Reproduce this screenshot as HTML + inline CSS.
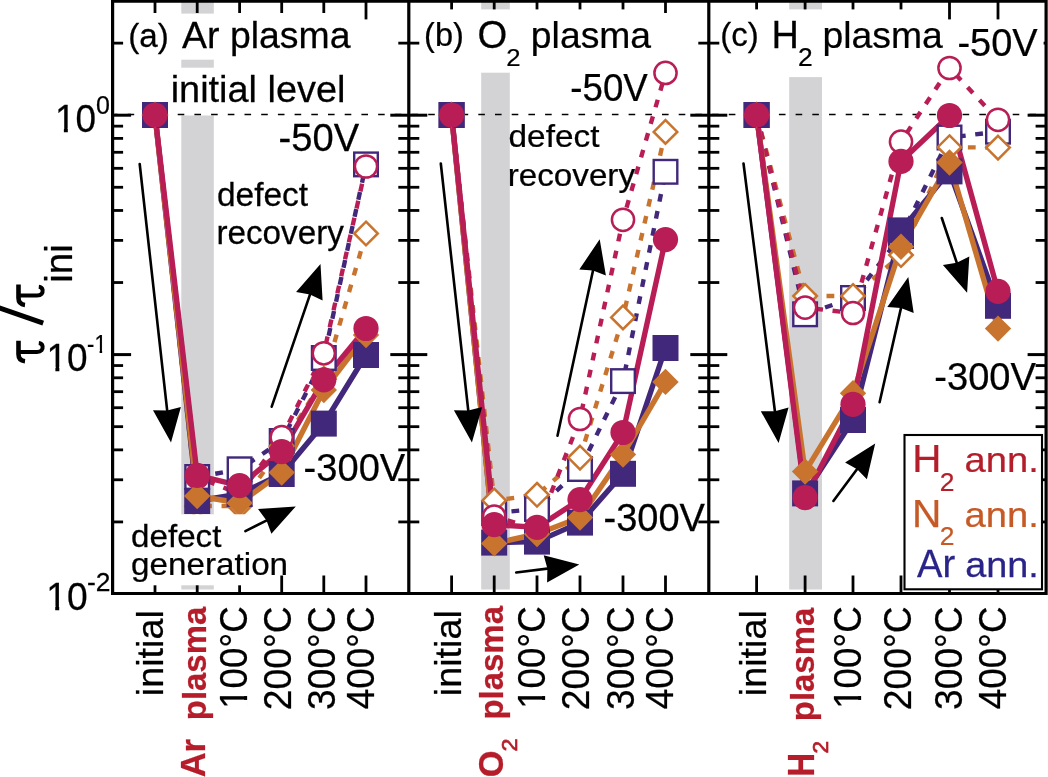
<!DOCTYPE html><html><head><meta charset="utf-8"><style>html,body{margin:0;padding:0;background:#fff}svg{display:block;will-change:transform;font-family:"Liberation Sans",sans-serif}</style></head><body>
<svg width="1048" height="777" viewBox="0 0 1048 777">
<rect width="1048" height="777" fill="#fff"/>
<rect x="181.3" y="0" width="32.50" height="589.50" fill="#D3D3D6"/>
<rect x="481.2" y="0" width="28.60" height="589.50" fill="#D3D3D6"/>
<rect x="789.2" y="0" width="32.80" height="589.50" fill="#D3D3D6"/>
<rect x="120" y="13.6" width="235" height="46.1" fill="#fff"/>
<rect x="165" y="67.7" width="185" height="47.8" fill="#fff"/>
<rect x="420" y="9.4" width="240" height="63.3" fill="#fff"/>
<rect x="715" y="9.4" width="235" height="67.7" fill="#fff"/>
<line x1="114.6" y1="114.5" x2="1044.1" y2="114.5" stroke="#000" stroke-width="1.6" stroke-dasharray="6.6 10.1" stroke-dashoffset="3.7"/>
<polyline points="155.00,115.00 197.20,477.00 239.60,469.30 281.70,441.00 323.80,358.00 366.00,164.40" fill="none" stroke="#42287B" stroke-width="4.4" stroke-dasharray="7.8 9.6" stroke-dashoffset="0.00"/>
<polyline points="155.00,115.00 197.20,506.00 239.60,506.00 281.70,446.00 323.80,379.00 366.00,233.50" fill="none" stroke="#C9742E" stroke-width="4.4" stroke-dasharray="7.8 9.6" stroke-dashoffset="0.00"/>
<polyline points="155.00,115.00 197.20,477.00 239.60,494.00 281.70,437.20 323.80,353.30 366.00,166.50" fill="none" stroke="#B81E55" stroke-width="4.4" stroke-dasharray="7.8 9.6" stroke-dashoffset="7.55"/>
<polyline points="155.00,115.00 197.20,501.00 239.60,494.00 281.70,474.00 323.80,423.60 366.00,355.00" fill="none" stroke="#42287B" stroke-width="5.4" stroke-linejoin="round"/>
<polyline points="155.00,115.00 197.20,496.00 239.60,503.00 281.70,472.60 323.80,390.00 366.00,335.00" fill="none" stroke="#C9742E" stroke-width="5.4" stroke-linejoin="round"/>
<polyline points="155.00,115.00 197.20,475.40 239.60,485.60 281.70,451.70 323.80,379.80 366.00,328.50" fill="none" stroke="#B81E55" stroke-width="5.4" stroke-linejoin="round"/>
<rect x="143.20" y="103.20" width="23.6" height="23.6" fill="#fff" stroke="#42287B" stroke-width="2.4"/>
<rect x="185.40" y="465.20" width="23.6" height="23.6" fill="#fff" stroke="#42287B" stroke-width="2.4"/>
<rect x="227.80" y="457.50" width="23.6" height="23.6" fill="#fff" stroke="#42287B" stroke-width="2.4"/>
<rect x="269.90" y="429.20" width="23.6" height="23.6" fill="#fff" stroke="#42287B" stroke-width="2.4"/>
<rect x="312.00" y="346.20" width="23.6" height="23.6" fill="#fff" stroke="#42287B" stroke-width="2.4"/>
<rect x="354.20" y="152.60" width="23.6" height="23.6" fill="#fff" stroke="#42287B" stroke-width="2.4"/>
<path d="M155.00 103.20L166.80 115.00L155.00 126.80L143.20 115.00Z" fill="#fff" stroke="#C9742E" stroke-width="2.5"/>
<path d="M197.20 494.20L209.00 506.00L197.20 517.80L185.40 506.00Z" fill="#fff" stroke="#C9742E" stroke-width="2.5"/>
<path d="M239.60 494.20L251.40 506.00L239.60 517.80L227.80 506.00Z" fill="#fff" stroke="#C9742E" stroke-width="2.5"/>
<path d="M281.70 434.20L293.50 446.00L281.70 457.80L269.90 446.00Z" fill="#fff" stroke="#C9742E" stroke-width="2.5"/>
<path d="M323.80 367.20L335.60 379.00L323.80 390.80L312.00 379.00Z" fill="#fff" stroke="#C9742E" stroke-width="2.5"/>
<path d="M366.00 221.70L377.80 233.50L366.00 245.30L354.20 233.50Z" fill="#fff" stroke="#C9742E" stroke-width="2.5"/>
<circle cx="155.00" cy="115.00" r="11.1" fill="#fff" stroke="#B81E55" stroke-width="2.5"/>
<circle cx="197.20" cy="477.00" r="11.1" fill="#fff" stroke="#B81E55" stroke-width="2.5"/>
<circle cx="239.60" cy="494.00" r="11.1" fill="#fff" stroke="#B81E55" stroke-width="2.5"/>
<circle cx="281.70" cy="437.20" r="11.1" fill="#fff" stroke="#B81E55" stroke-width="2.5"/>
<circle cx="323.80" cy="353.30" r="11.1" fill="#fff" stroke="#B81E55" stroke-width="2.5"/>
<circle cx="366.00" cy="166.50" r="11.1" fill="#fff" stroke="#B81E55" stroke-width="2.5"/>
<rect x="142.00" y="102.00" width="26" height="26" fill="#42287B"/>
<rect x="184.20" y="488.00" width="26" height="26" fill="#42287B"/>
<rect x="226.60" y="481.00" width="26" height="26" fill="#42287B"/>
<rect x="268.70" y="461.00" width="26" height="26" fill="#42287B"/>
<rect x="310.80" y="410.60" width="26" height="26" fill="#42287B"/>
<rect x="353.00" y="342.00" width="26" height="26" fill="#42287B"/>
<path d="M155.00 101.80L168.20 115.00L155.00 128.20L141.80 115.00Z" fill="#C9742E"/>
<path d="M197.20 482.80L210.40 496.00L197.20 509.20L184.00 496.00Z" fill="#C9742E"/>
<path d="M239.60 489.80L252.80 503.00L239.60 516.20L226.40 503.00Z" fill="#C9742E"/>
<path d="M281.70 459.40L294.90 472.60L281.70 485.80L268.50 472.60Z" fill="#C9742E"/>
<path d="M323.80 376.80L337.00 390.00L323.80 403.20L310.60 390.00Z" fill="#C9742E"/>
<path d="M366.00 321.80L379.20 335.00L366.00 348.20L352.80 335.00Z" fill="#C9742E"/>
<circle cx="155.00" cy="115.00" r="12.6" fill="#B81E55"/>
<circle cx="197.20" cy="475.40" r="12.6" fill="#B81E55"/>
<circle cx="239.60" cy="485.60" r="12.6" fill="#B81E55"/>
<circle cx="281.70" cy="451.70" r="12.6" fill="#B81E55"/>
<circle cx="323.80" cy="379.80" r="12.6" fill="#B81E55"/>
<circle cx="366.00" cy="328.50" r="12.6" fill="#B81E55"/>
<polyline points="451.60,115.00 494.20,513.00 537.00,509.00 580.00,469.00 623.00,381.10 665.50,171.80" fill="none" stroke="#42287B" stroke-width="4.4" stroke-dasharray="7.8 9.6" stroke-dashoffset="0.00"/>
<polyline points="451.60,115.00 494.20,500.50 537.00,494.80 580.00,457.60 623.00,317.40 665.50,131.90" fill="none" stroke="#C9742E" stroke-width="4.4" stroke-dasharray="7.8 9.6" stroke-dashoffset="0.00"/>
<polyline points="451.60,115.00 494.20,516.50 537.00,529.00 580.00,419.00 623.00,219.80 665.50,72.90" fill="none" stroke="#B81E55" stroke-width="4.4" stroke-dasharray="7.8 9.6" stroke-dashoffset="0.00"/>
<polyline points="451.60,115.00 494.20,542.60 537.00,541.60 580.00,522.60 623.00,473.80 665.50,348.00" fill="none" stroke="#42287B" stroke-width="5.4" stroke-linejoin="round"/>
<polyline points="451.60,115.00 494.20,543.40 537.00,534.00 580.00,517.60 623.00,454.50 665.50,381.90" fill="none" stroke="#C9742E" stroke-width="5.4" stroke-linejoin="round"/>
<polyline points="451.60,115.00 494.20,524.70 537.00,527.40 580.00,499.60 623.00,432.50 665.50,239.60" fill="none" stroke="#B81E55" stroke-width="5.4" stroke-linejoin="round"/>
<rect x="439.80" y="103.20" width="23.6" height="23.6" fill="#fff" stroke="#42287B" stroke-width="2.4"/>
<rect x="482.40" y="501.20" width="23.6" height="23.6" fill="#fff" stroke="#42287B" stroke-width="2.4"/>
<rect x="525.20" y="497.20" width="23.6" height="23.6" fill="#fff" stroke="#42287B" stroke-width="2.4"/>
<rect x="568.20" y="457.20" width="23.6" height="23.6" fill="#fff" stroke="#42287B" stroke-width="2.4"/>
<rect x="611.20" y="369.30" width="23.6" height="23.6" fill="#fff" stroke="#42287B" stroke-width="2.4"/>
<rect x="653.70" y="160.00" width="23.6" height="23.6" fill="#fff" stroke="#42287B" stroke-width="2.4"/>
<path d="M451.60 103.20L463.40 115.00L451.60 126.80L439.80 115.00Z" fill="#fff" stroke="#C9742E" stroke-width="2.5"/>
<path d="M494.20 488.70L506.00 500.50L494.20 512.30L482.40 500.50Z" fill="#fff" stroke="#C9742E" stroke-width="2.5"/>
<path d="M537.00 483.00L548.80 494.80L537.00 506.60L525.20 494.80Z" fill="#fff" stroke="#C9742E" stroke-width="2.5"/>
<path d="M580.00 445.80L591.80 457.60L580.00 469.40L568.20 457.60Z" fill="#fff" stroke="#C9742E" stroke-width="2.5"/>
<path d="M623.00 305.60L634.80 317.40L623.00 329.20L611.20 317.40Z" fill="#fff" stroke="#C9742E" stroke-width="2.5"/>
<path d="M665.50 120.10L677.30 131.90L665.50 143.70L653.70 131.90Z" fill="#fff" stroke="#C9742E" stroke-width="2.5"/>
<circle cx="451.60" cy="115.00" r="11.1" fill="#fff" stroke="#B81E55" stroke-width="2.5"/>
<circle cx="494.20" cy="516.50" r="11.1" fill="#fff" stroke="#B81E55" stroke-width="2.5"/>
<circle cx="537.00" cy="529.00" r="11.1" fill="#fff" stroke="#B81E55" stroke-width="2.5"/>
<circle cx="580.00" cy="419.00" r="11.1" fill="#fff" stroke="#B81E55" stroke-width="2.5"/>
<circle cx="623.00" cy="219.80" r="11.1" fill="#fff" stroke="#B81E55" stroke-width="2.5"/>
<circle cx="665.50" cy="72.90" r="11.1" fill="#fff" stroke="#B81E55" stroke-width="2.5"/>
<rect x="438.60" y="102.00" width="26" height="26" fill="#42287B"/>
<rect x="481.20" y="529.60" width="26" height="26" fill="#42287B"/>
<rect x="524.00" y="528.60" width="26" height="26" fill="#42287B"/>
<rect x="567.00" y="509.60" width="26" height="26" fill="#42287B"/>
<rect x="610.00" y="460.80" width="26" height="26" fill="#42287B"/>
<rect x="652.50" y="335.00" width="26" height="26" fill="#42287B"/>
<path d="M451.60 101.80L464.80 115.00L451.60 128.20L438.40 115.00Z" fill="#C9742E"/>
<path d="M494.20 530.20L507.40 543.40L494.20 556.60L481.00 543.40Z" fill="#C9742E"/>
<path d="M537.00 520.80L550.20 534.00L537.00 547.20L523.80 534.00Z" fill="#C9742E"/>
<path d="M580.00 504.40L593.20 517.60L580.00 530.80L566.80 517.60Z" fill="#C9742E"/>
<path d="M623.00 441.30L636.20 454.50L623.00 467.70L609.80 454.50Z" fill="#C9742E"/>
<path d="M665.50 368.70L678.70 381.90L665.50 395.10L652.30 381.90Z" fill="#C9742E"/>
<circle cx="451.60" cy="115.00" r="12.6" fill="#B81E55"/>
<circle cx="494.20" cy="524.70" r="12.6" fill="#B81E55"/>
<circle cx="537.00" cy="527.40" r="12.6" fill="#B81E55"/>
<circle cx="580.00" cy="499.60" r="12.6" fill="#B81E55"/>
<circle cx="623.00" cy="432.50" r="12.6" fill="#B81E55"/>
<circle cx="665.50" cy="239.60" r="12.6" fill="#B81E55"/>
<polyline points="756.60,115.00 805.10,314.30 853.00,298.00 901.00,236.00 949.50,137.50 998.00,131.70" fill="none" stroke="#42287B" stroke-width="4.4" stroke-dasharray="7.8 9.6" stroke-dashoffset="0.00"/>
<polyline points="756.60,115.00 805.10,296.00 853.00,296.00 901.00,255.00 949.50,147.20 998.00,147.60" fill="none" stroke="#C9742E" stroke-width="4.4" stroke-dasharray="7.8 9.6" stroke-dashoffset="0.00"/>
<polyline points="756.60,115.00 805.10,307.60 853.00,313.00 901.00,141.70 949.50,68.00 998.00,119.80" fill="none" stroke="#B81E55" stroke-width="4.4" stroke-dasharray="7.8 9.6" stroke-dashoffset="0.00"/>
<polyline points="756.60,115.00 805.10,493.40 853.00,420.00 901.00,230.40 949.50,171.40 998.00,305.80" fill="none" stroke="#42287B" stroke-width="5.4" stroke-linejoin="round"/>
<polyline points="756.60,115.00 805.10,471.60 853.00,393.30 901.00,246.80 949.50,162.50 998.00,328.60" fill="none" stroke="#C9742E" stroke-width="5.4" stroke-linejoin="round"/>
<polyline points="756.60,115.00 805.10,497.60 853.00,404.40 901.00,161.40 949.50,115.50 998.00,291.40" fill="none" stroke="#B81E55" stroke-width="5.4" stroke-linejoin="round"/>
<rect x="744.80" y="103.20" width="23.6" height="23.6" fill="#fff" stroke="#42287B" stroke-width="2.4"/>
<rect x="793.30" y="302.50" width="23.6" height="23.6" fill="#fff" stroke="#42287B" stroke-width="2.4"/>
<rect x="841.20" y="286.20" width="23.6" height="23.6" fill="#fff" stroke="#42287B" stroke-width="2.4"/>
<rect x="889.20" y="224.20" width="23.6" height="23.6" fill="#fff" stroke="#42287B" stroke-width="2.4"/>
<rect x="937.70" y="125.70" width="23.6" height="23.6" fill="#fff" stroke="#42287B" stroke-width="2.4"/>
<rect x="986.20" y="119.90" width="23.6" height="23.6" fill="#fff" stroke="#42287B" stroke-width="2.4"/>
<path d="M756.60 103.20L768.40 115.00L756.60 126.80L744.80 115.00Z" fill="#fff" stroke="#C9742E" stroke-width="2.5"/>
<path d="M805.10 284.20L816.90 296.00L805.10 307.80L793.30 296.00Z" fill="#fff" stroke="#C9742E" stroke-width="2.5"/>
<path d="M853.00 284.20L864.80 296.00L853.00 307.80L841.20 296.00Z" fill="#fff" stroke="#C9742E" stroke-width="2.5"/>
<path d="M901.00 243.20L912.80 255.00L901.00 266.80L889.20 255.00Z" fill="#fff" stroke="#C9742E" stroke-width="2.5"/>
<path d="M949.50 135.40L961.30 147.20L949.50 159.00L937.70 147.20Z" fill="#fff" stroke="#C9742E" stroke-width="2.5"/>
<path d="M998.00 135.80L1009.80 147.60L998.00 159.40L986.20 147.60Z" fill="#fff" stroke="#C9742E" stroke-width="2.5"/>
<circle cx="756.60" cy="115.00" r="11.1" fill="#fff" stroke="#B81E55" stroke-width="2.5"/>
<circle cx="805.10" cy="307.60" r="11.1" fill="#fff" stroke="#B81E55" stroke-width="2.5"/>
<circle cx="853.00" cy="313.00" r="11.1" fill="#fff" stroke="#B81E55" stroke-width="2.5"/>
<circle cx="901.00" cy="141.70" r="11.1" fill="#fff" stroke="#B81E55" stroke-width="2.5"/>
<circle cx="949.50" cy="68.00" r="11.1" fill="#fff" stroke="#B81E55" stroke-width="2.5"/>
<circle cx="998.00" cy="119.80" r="11.1" fill="#fff" stroke="#B81E55" stroke-width="2.5"/>
<rect x="743.60" y="102.00" width="26" height="26" fill="#42287B"/>
<rect x="792.10" y="480.40" width="26" height="26" fill="#42287B"/>
<rect x="840.00" y="407.00" width="26" height="26" fill="#42287B"/>
<rect x="888.00" y="217.40" width="26" height="26" fill="#42287B"/>
<rect x="936.50" y="158.40" width="26" height="26" fill="#42287B"/>
<rect x="985.00" y="292.80" width="26" height="26" fill="#42287B"/>
<path d="M756.60 101.80L769.80 115.00L756.60 128.20L743.40 115.00Z" fill="#C9742E"/>
<path d="M805.10 458.40L818.30 471.60L805.10 484.80L791.90 471.60Z" fill="#C9742E"/>
<path d="M853.00 380.10L866.20 393.30L853.00 406.50L839.80 393.30Z" fill="#C9742E"/>
<path d="M901.00 233.60L914.20 246.80L901.00 260.00L887.80 246.80Z" fill="#C9742E"/>
<path d="M949.50 149.30L962.70 162.50L949.50 175.70L936.30 162.50Z" fill="#C9742E"/>
<path d="M998.00 315.40L1011.20 328.60L998.00 341.80L984.80 328.60Z" fill="#C9742E"/>
<circle cx="756.60" cy="115.00" r="12.6" fill="#B81E55"/>
<circle cx="805.10" cy="497.60" r="12.6" fill="#B81E55"/>
<circle cx="853.00" cy="404.40" r="12.6" fill="#B81E55"/>
<circle cx="901.00" cy="161.40" r="12.6" fill="#B81E55"/>
<circle cx="949.50" cy="115.50" r="12.6" fill="#B81E55"/>
<circle cx="998.00" cy="291.40" r="12.6" fill="#B81E55"/>
<rect x="125" y="514.3" width="145" height="71" fill="#fff"/>
<line x1="112.6" y1="115.20" x2="131.1" y2="115.20" stroke="#000" stroke-width="3"/>
<line x1="112.6" y1="354.60" x2="131.1" y2="354.60" stroke="#000" stroke-width="3"/>
<line x1="112.6" y1="43.13" x2="123.1" y2="43.13" stroke="#000" stroke-width="2.8"/>
<line x1="112.6" y1="282.53" x2="123.1" y2="282.53" stroke="#000" stroke-width="2.8"/>
<line x1="112.6" y1="240.38" x2="123.1" y2="240.38" stroke="#000" stroke-width="2.8"/>
<line x1="112.6" y1="210.47" x2="123.1" y2="210.47" stroke="#000" stroke-width="2.8"/>
<line x1="112.6" y1="187.27" x2="123.1" y2="187.27" stroke="#000" stroke-width="2.8"/>
<line x1="112.6" y1="168.31" x2="123.1" y2="168.31" stroke="#000" stroke-width="2.8"/>
<line x1="112.6" y1="152.28" x2="123.1" y2="152.28" stroke="#000" stroke-width="2.8"/>
<line x1="112.6" y1="138.40" x2="123.1" y2="138.40" stroke="#000" stroke-width="2.8"/>
<line x1="112.6" y1="126.15" x2="123.1" y2="126.15" stroke="#000" stroke-width="2.8"/>
<line x1="112.6" y1="521.93" x2="123.1" y2="521.93" stroke="#000" stroke-width="2.8"/>
<line x1="112.6" y1="479.78" x2="123.1" y2="479.78" stroke="#000" stroke-width="2.8"/>
<line x1="112.6" y1="449.87" x2="123.1" y2="449.87" stroke="#000" stroke-width="2.8"/>
<line x1="112.6" y1="426.67" x2="123.1" y2="426.67" stroke="#000" stroke-width="2.8"/>
<line x1="112.6" y1="407.71" x2="123.1" y2="407.71" stroke="#000" stroke-width="2.8"/>
<line x1="112.6" y1="391.68" x2="123.1" y2="391.68" stroke="#000" stroke-width="2.8"/>
<line x1="112.6" y1="377.80" x2="123.1" y2="377.80" stroke="#000" stroke-width="2.8"/>
<line x1="112.6" y1="365.55" x2="123.1" y2="365.55" stroke="#000" stroke-width="2.8"/>
<line x1="408.8" y1="115.20" x2="427.3" y2="115.20" stroke="#000" stroke-width="3"/>
<line x1="408.8" y1="115.20" x2="390.3" y2="115.20" stroke="#000" stroke-width="3"/>
<line x1="408.8" y1="354.60" x2="427.3" y2="354.60" stroke="#000" stroke-width="3"/>
<line x1="408.8" y1="354.60" x2="390.3" y2="354.60" stroke="#000" stroke-width="3"/>
<line x1="408.8" y1="43.13" x2="419.3" y2="43.13" stroke="#000" stroke-width="2.8"/>
<line x1="408.8" y1="43.13" x2="398.3" y2="43.13" stroke="#000" stroke-width="2.8"/>
<line x1="408.8" y1="282.53" x2="419.3" y2="282.53" stroke="#000" stroke-width="2.8"/>
<line x1="408.8" y1="282.53" x2="398.3" y2="282.53" stroke="#000" stroke-width="2.8"/>
<line x1="408.8" y1="240.38" x2="419.3" y2="240.38" stroke="#000" stroke-width="2.8"/>
<line x1="408.8" y1="240.38" x2="398.3" y2="240.38" stroke="#000" stroke-width="2.8"/>
<line x1="408.8" y1="210.47" x2="419.3" y2="210.47" stroke="#000" stroke-width="2.8"/>
<line x1="408.8" y1="210.47" x2="398.3" y2="210.47" stroke="#000" stroke-width="2.8"/>
<line x1="408.8" y1="187.27" x2="419.3" y2="187.27" stroke="#000" stroke-width="2.8"/>
<line x1="408.8" y1="187.27" x2="398.3" y2="187.27" stroke="#000" stroke-width="2.8"/>
<line x1="408.8" y1="168.31" x2="419.3" y2="168.31" stroke="#000" stroke-width="2.8"/>
<line x1="408.8" y1="168.31" x2="398.3" y2="168.31" stroke="#000" stroke-width="2.8"/>
<line x1="408.8" y1="152.28" x2="419.3" y2="152.28" stroke="#000" stroke-width="2.8"/>
<line x1="408.8" y1="152.28" x2="398.3" y2="152.28" stroke="#000" stroke-width="2.8"/>
<line x1="408.8" y1="138.40" x2="419.3" y2="138.40" stroke="#000" stroke-width="2.8"/>
<line x1="408.8" y1="138.40" x2="398.3" y2="138.40" stroke="#000" stroke-width="2.8"/>
<line x1="408.8" y1="126.15" x2="419.3" y2="126.15" stroke="#000" stroke-width="2.8"/>
<line x1="408.8" y1="126.15" x2="398.3" y2="126.15" stroke="#000" stroke-width="2.8"/>
<line x1="408.8" y1="521.93" x2="419.3" y2="521.93" stroke="#000" stroke-width="2.8"/>
<line x1="408.8" y1="521.93" x2="398.3" y2="521.93" stroke="#000" stroke-width="2.8"/>
<line x1="408.8" y1="479.78" x2="419.3" y2="479.78" stroke="#000" stroke-width="2.8"/>
<line x1="408.8" y1="479.78" x2="398.3" y2="479.78" stroke="#000" stroke-width="2.8"/>
<line x1="408.8" y1="449.87" x2="419.3" y2="449.87" stroke="#000" stroke-width="2.8"/>
<line x1="408.8" y1="449.87" x2="398.3" y2="449.87" stroke="#000" stroke-width="2.8"/>
<line x1="408.8" y1="426.67" x2="419.3" y2="426.67" stroke="#000" stroke-width="2.8"/>
<line x1="408.8" y1="426.67" x2="398.3" y2="426.67" stroke="#000" stroke-width="2.8"/>
<line x1="408.8" y1="407.71" x2="419.3" y2="407.71" stroke="#000" stroke-width="2.8"/>
<line x1="408.8" y1="407.71" x2="398.3" y2="407.71" stroke="#000" stroke-width="2.8"/>
<line x1="408.8" y1="391.68" x2="419.3" y2="391.68" stroke="#000" stroke-width="2.8"/>
<line x1="408.8" y1="391.68" x2="398.3" y2="391.68" stroke="#000" stroke-width="2.8"/>
<line x1="408.8" y1="377.80" x2="419.3" y2="377.80" stroke="#000" stroke-width="2.8"/>
<line x1="408.8" y1="377.80" x2="398.3" y2="377.80" stroke="#000" stroke-width="2.8"/>
<line x1="408.8" y1="365.55" x2="419.3" y2="365.55" stroke="#000" stroke-width="2.8"/>
<line x1="408.8" y1="365.55" x2="398.3" y2="365.55" stroke="#000" stroke-width="2.8"/>
<line x1="708.8" y1="115.20" x2="727.3" y2="115.20" stroke="#000" stroke-width="3"/>
<line x1="708.8" y1="115.20" x2="690.3" y2="115.20" stroke="#000" stroke-width="3"/>
<line x1="708.8" y1="354.60" x2="727.3" y2="354.60" stroke="#000" stroke-width="3"/>
<line x1="708.8" y1="354.60" x2="690.3" y2="354.60" stroke="#000" stroke-width="3"/>
<line x1="708.8" y1="43.13" x2="719.3" y2="43.13" stroke="#000" stroke-width="2.8"/>
<line x1="708.8" y1="43.13" x2="698.3" y2="43.13" stroke="#000" stroke-width="2.8"/>
<line x1="708.8" y1="282.53" x2="719.3" y2="282.53" stroke="#000" stroke-width="2.8"/>
<line x1="708.8" y1="282.53" x2="698.3" y2="282.53" stroke="#000" stroke-width="2.8"/>
<line x1="708.8" y1="240.38" x2="719.3" y2="240.38" stroke="#000" stroke-width="2.8"/>
<line x1="708.8" y1="240.38" x2="698.3" y2="240.38" stroke="#000" stroke-width="2.8"/>
<line x1="708.8" y1="210.47" x2="719.3" y2="210.47" stroke="#000" stroke-width="2.8"/>
<line x1="708.8" y1="210.47" x2="698.3" y2="210.47" stroke="#000" stroke-width="2.8"/>
<line x1="708.8" y1="187.27" x2="719.3" y2="187.27" stroke="#000" stroke-width="2.8"/>
<line x1="708.8" y1="187.27" x2="698.3" y2="187.27" stroke="#000" stroke-width="2.8"/>
<line x1="708.8" y1="168.31" x2="719.3" y2="168.31" stroke="#000" stroke-width="2.8"/>
<line x1="708.8" y1="168.31" x2="698.3" y2="168.31" stroke="#000" stroke-width="2.8"/>
<line x1="708.8" y1="152.28" x2="719.3" y2="152.28" stroke="#000" stroke-width="2.8"/>
<line x1="708.8" y1="152.28" x2="698.3" y2="152.28" stroke="#000" stroke-width="2.8"/>
<line x1="708.8" y1="138.40" x2="719.3" y2="138.40" stroke="#000" stroke-width="2.8"/>
<line x1="708.8" y1="138.40" x2="698.3" y2="138.40" stroke="#000" stroke-width="2.8"/>
<line x1="708.8" y1="126.15" x2="719.3" y2="126.15" stroke="#000" stroke-width="2.8"/>
<line x1="708.8" y1="126.15" x2="698.3" y2="126.15" stroke="#000" stroke-width="2.8"/>
<line x1="708.8" y1="521.93" x2="719.3" y2="521.93" stroke="#000" stroke-width="2.8"/>
<line x1="708.8" y1="521.93" x2="698.3" y2="521.93" stroke="#000" stroke-width="2.8"/>
<line x1="708.8" y1="479.78" x2="719.3" y2="479.78" stroke="#000" stroke-width="2.8"/>
<line x1="708.8" y1="479.78" x2="698.3" y2="479.78" stroke="#000" stroke-width="2.8"/>
<line x1="708.8" y1="449.87" x2="719.3" y2="449.87" stroke="#000" stroke-width="2.8"/>
<line x1="708.8" y1="449.87" x2="698.3" y2="449.87" stroke="#000" stroke-width="2.8"/>
<line x1="708.8" y1="426.67" x2="719.3" y2="426.67" stroke="#000" stroke-width="2.8"/>
<line x1="708.8" y1="426.67" x2="698.3" y2="426.67" stroke="#000" stroke-width="2.8"/>
<line x1="708.8" y1="407.71" x2="719.3" y2="407.71" stroke="#000" stroke-width="2.8"/>
<line x1="708.8" y1="407.71" x2="698.3" y2="407.71" stroke="#000" stroke-width="2.8"/>
<line x1="708.8" y1="391.68" x2="719.3" y2="391.68" stroke="#000" stroke-width="2.8"/>
<line x1="708.8" y1="391.68" x2="698.3" y2="391.68" stroke="#000" stroke-width="2.8"/>
<line x1="708.8" y1="377.80" x2="719.3" y2="377.80" stroke="#000" stroke-width="2.8"/>
<line x1="708.8" y1="377.80" x2="698.3" y2="377.80" stroke="#000" stroke-width="2.8"/>
<line x1="708.8" y1="365.55" x2="719.3" y2="365.55" stroke="#000" stroke-width="2.8"/>
<line x1="708.8" y1="365.55" x2="698.3" y2="365.55" stroke="#000" stroke-width="2.8"/>
<line x1="1046.1" y1="115.20" x2="1027.6" y2="115.20" stroke="#000" stroke-width="3"/>
<line x1="1046.1" y1="354.60" x2="1027.6" y2="354.60" stroke="#000" stroke-width="3"/>
<line x1="1046.1" y1="43.13" x2="1043.6" y2="43.13" stroke="#000" stroke-width="2.8"/>
<line x1="1046.1" y1="282.53" x2="1035.6" y2="282.53" stroke="#000" stroke-width="2.8"/>
<line x1="1046.1" y1="240.38" x2="1035.6" y2="240.38" stroke="#000" stroke-width="2.8"/>
<line x1="1046.1" y1="210.47" x2="1035.6" y2="210.47" stroke="#000" stroke-width="2.8"/>
<line x1="1046.1" y1="187.27" x2="1035.6" y2="187.27" stroke="#000" stroke-width="2.8"/>
<line x1="1046.1" y1="168.31" x2="1035.6" y2="168.31" stroke="#000" stroke-width="2.8"/>
<line x1="1046.1" y1="152.28" x2="1035.6" y2="152.28" stroke="#000" stroke-width="2.8"/>
<line x1="1046.1" y1="138.40" x2="1035.6" y2="138.40" stroke="#000" stroke-width="2.8"/>
<line x1="1046.1" y1="126.15" x2="1035.6" y2="126.15" stroke="#000" stroke-width="2.8"/>
<line x1="1046.1" y1="521.93" x2="1035.6" y2="521.93" stroke="#000" stroke-width="2.8"/>
<line x1="1046.1" y1="479.78" x2="1035.6" y2="479.78" stroke="#000" stroke-width="2.8"/>
<line x1="1046.1" y1="449.87" x2="1035.6" y2="449.87" stroke="#000" stroke-width="2.8"/>
<line x1="1046.1" y1="426.67" x2="1035.6" y2="426.67" stroke="#000" stroke-width="2.8"/>
<line x1="1046.1" y1="407.71" x2="1035.6" y2="407.71" stroke="#000" stroke-width="2.8"/>
<line x1="1046.1" y1="391.68" x2="1035.6" y2="391.68" stroke="#000" stroke-width="2.8"/>
<line x1="1046.1" y1="377.80" x2="1035.6" y2="377.80" stroke="#000" stroke-width="2.8"/>
<line x1="1046.1" y1="365.55" x2="1035.6" y2="365.55" stroke="#000" stroke-width="2.8"/>
<line x1="155" y1="0" x2="155" y2="13" stroke="#000" stroke-width="2.8"/>
<line x1="155" y1="593.5" x2="155" y2="585.3" stroke="#000" stroke-width="2.8"/>
<line x1="197.2" y1="0" x2="197.2" y2="13" stroke="#000" stroke-width="2.8"/>
<line x1="197.2" y1="593.5" x2="197.2" y2="585.3" stroke="#000" stroke-width="2.8"/>
<line x1="239.6" y1="0" x2="239.6" y2="13" stroke="#000" stroke-width="2.8"/>
<line x1="239.6" y1="593.5" x2="239.6" y2="585.3" stroke="#000" stroke-width="2.8"/>
<line x1="281.7" y1="0" x2="281.7" y2="13" stroke="#000" stroke-width="2.8"/>
<line x1="281.7" y1="593.5" x2="281.7" y2="575.5" stroke="#000" stroke-width="2.8"/>
<line x1="323.8" y1="0" x2="323.8" y2="13" stroke="#000" stroke-width="2.8"/>
<line x1="323.8" y1="593.5" x2="323.8" y2="575.5" stroke="#000" stroke-width="2.8"/>
<line x1="366.0" y1="0" x2="366.0" y2="19.4" stroke="#000" stroke-width="2.8"/>
<line x1="366.0" y1="593.5" x2="366.0" y2="575.5" stroke="#000" stroke-width="2.8"/>
<line x1="451.6" y1="0" x2="451.6" y2="9.4" stroke="#000" stroke-width="2.8"/>
<line x1="451.6" y1="593.5" x2="451.6" y2="575.5" stroke="#000" stroke-width="2.8"/>
<line x1="494.2" y1="0" x2="494.2" y2="9.4" stroke="#000" stroke-width="2.8"/>
<line x1="494.2" y1="593.5" x2="494.2" y2="575.5" stroke="#000" stroke-width="2.8"/>
<line x1="537.0" y1="0" x2="537.0" y2="9.4" stroke="#000" stroke-width="2.8"/>
<line x1="537.0" y1="593.5" x2="537.0" y2="575.5" stroke="#000" stroke-width="2.8"/>
<line x1="580.0" y1="0" x2="580.0" y2="9.4" stroke="#000" stroke-width="2.8"/>
<line x1="580.0" y1="593.5" x2="580.0" y2="575.5" stroke="#000" stroke-width="2.8"/>
<line x1="623.0" y1="0" x2="623.0" y2="9.4" stroke="#000" stroke-width="2.8"/>
<line x1="623.0" y1="593.5" x2="623.0" y2="575.5" stroke="#000" stroke-width="2.8"/>
<line x1="665.5" y1="0" x2="665.5" y2="13" stroke="#000" stroke-width="2.8"/>
<line x1="665.5" y1="593.5" x2="665.5" y2="575.5" stroke="#000" stroke-width="2.8"/>
<line x1="756.6" y1="0" x2="756.6" y2="9.4" stroke="#000" stroke-width="2.8"/>
<line x1="756.6" y1="593.5" x2="756.6" y2="575.5" stroke="#000" stroke-width="2.8"/>
<line x1="805.1" y1="0" x2="805.1" y2="9.4" stroke="#000" stroke-width="2.8"/>
<line x1="805.1" y1="593.5" x2="805.1" y2="575.5" stroke="#000" stroke-width="2.8"/>
<line x1="853.0" y1="0" x2="853.0" y2="9.4" stroke="#000" stroke-width="2.8"/>
<line x1="853.0" y1="593.5" x2="853.0" y2="575.5" stroke="#000" stroke-width="2.8"/>
<line x1="901.0" y1="0" x2="901.0" y2="9.4" stroke="#000" stroke-width="2.8"/>
<line x1="901.0" y1="593.5" x2="901.0" y2="575.5" stroke="#000" stroke-width="2.8"/>
<line x1="949.5" y1="0" x2="949.5" y2="19.4" stroke="#000" stroke-width="2.8"/>
<line x1="949.5" y1="593.5" x2="949.5" y2="575.5" stroke="#000" stroke-width="2.8"/>
<line x1="998.0" y1="0" x2="998.0" y2="19.4" stroke="#000" stroke-width="2.8"/>
<line x1="998.0" y1="593.5" x2="998.0" y2="575.5" stroke="#000" stroke-width="2.8"/>
<path d="M112.6 0V593.5H1046.1V0" fill="none" stroke="#000" stroke-width="3.2"/>
<line x1="112.6" y1="1.2" x2="1046.1" y2="1.2" stroke="#000" stroke-width="3.2"/>
<line x1="408.8" y1="0" x2="408.8" y2="593.5" stroke="#000" stroke-width="3.2"/>
<line x1="708.8" y1="0" x2="708.8" y2="593.5" stroke="#000" stroke-width="3.2"/>
<rect x="904.5" y="435" width="137.5" height="154.3" fill="#fff" stroke="#000" stroke-width="2.1"/>
<line x1="139.70" y1="164.00" x2="167.42" y2="412.57" stroke="#000" stroke-width="2.6" stroke-linecap="round"/>
<path d="M171.00 442.60L180.90 407.00L167.19 410.59L153.00 410.20Z" fill="#000"/>
<line x1="271.70" y1="406.70" x2="310.65" y2="292.57" stroke="#000" stroke-width="2.6" stroke-linecap="round"/>
<path d="M320.50 263.90L322.60 300.60L310.00 294.46L296.10 292.10Z" fill="#000"/>
<line x1="245.40" y1="531.10" x2="268.31" y2="519.62" stroke="#000" stroke-width="2.6" stroke-linecap="round"/>
<path d="M295.80 506.40L271.40 533.70L266.50 520.48L258.00 509.00Z" fill="#000"/>
<line x1="440.80" y1="163.50" x2="468.50" y2="412.57" stroke="#000" stroke-width="2.6" stroke-linecap="round"/>
<path d="M471.90 442.60L482.20 407.00L468.28 410.59L453.90 410.20Z" fill="#000"/>
<line x1="557.50" y1="435.80" x2="593.44" y2="268.59" stroke="#000" stroke-width="2.6" stroke-linecap="round"/>
<path d="M599.70 239.30L605.90 275.60L593.02 270.54L579.30 269.40Z" fill="#000"/>
<line x1="516.20" y1="572.50" x2="549.37" y2="568.35" stroke="#000" stroke-width="2.6" stroke-linecap="round"/>
<path d="M579.30 564.60L547.10 582.40L547.38 568.60L543.70 555.30Z" fill="#000"/>
<line x1="743.50" y1="163.50" x2="775.16" y2="413.27" stroke="#000" stroke-width="2.6" stroke-linecap="round"/>
<path d="M778.60 442.90L788.60 407.40L774.93 411.29L760.80 411.20Z" fill="#000"/>
<line x1="833.40" y1="501.00" x2="858.29" y2="467.57" stroke="#000" stroke-width="2.6" stroke-linecap="round"/>
<path d="M875.20 443.40L866.90 479.20L857.15 469.21L845.10 462.50Z" fill="#000"/>
<line x1="879.60" y1="402.30" x2="901.42" y2="306.11" stroke="#000" stroke-width="2.6" stroke-linecap="round"/>
<path d="M908.30 277.00L913.70 312.90L900.96 308.05L887.30 307.10Z" fill="#000"/>
<line x1="941.80" y1="218.00" x2="957.40" y2="264.58" stroke="#000" stroke-width="2.6" stroke-linecap="round"/>
<path d="M967.10 292.70L969.30 256.60L956.75 262.69L942.90 265.00Z" fill="#000"/>
<text transform="translate(54.93,132.40) scale(0.9634,1)" font-size="38.3" fill="#000" stroke="#000" stroke-width="0.25">10</text>
<g transform="translate(54.93,132.40) scale(0.9634,1)" fill="#fff"><rect x="0.87" y="-4.16" width="8.41" height="5.46"/><rect x="13.37" y="-4.16" width="8.37" height="5.46"/></g>
<text transform="translate(96.10,114.40) scale(0.9804,1)" font-size="25.5" fill="#000" stroke="#000" stroke-width="0.25">0</text>
<text transform="translate(46.43,371.20) scale(0.9661,1)" font-size="38.3" fill="#000" stroke="#000" stroke-width="0.25">10</text>
<g transform="translate(46.43,371.20) scale(0.9661,1)" fill="#fff"><rect x="0.87" y="-4.16" width="8.41" height="5.46"/><rect x="13.37" y="-4.16" width="8.37" height="5.46"/></g>
<text transform="translate(87.12,352.90) scale(0.8578,1)" font-size="25.5" fill="#000" stroke="#000" stroke-width="0.25">-1</text>
<g transform="translate(87.12,352.90) scale(0.8578,1)" fill="#fff"><rect x="8.74" y="-3.21" width="5.82" height="4.51"/><rect x="17.51" y="-3.21" width="5.91" height="4.51"/></g>
<text transform="translate(46.21,610.00) scale(0.9713,1)" font-size="38.3" fill="#000" stroke="#000" stroke-width="0.25">10</text>
<g transform="translate(46.21,610.00) scale(0.9713,1)" fill="#fff"><rect x="0.87" y="-4.16" width="8.41" height="5.46"/><rect x="13.37" y="-4.16" width="8.37" height="5.46"/></g>
<text transform="translate(86.91,591.30) scale(1.0359,1)" font-size="25.5" fill="#000" stroke="#000" stroke-width="0.25">-2</text>
<text transform="translate(128.31,47.20) scale(0.9905,1)" font-size="33.5" fill="#000" stroke="#000" stroke-width="0.25">(a)</text>
<text transform="translate(182.10,47.60) scale(0.9947,1)" font-size="37.6" fill="#000" stroke="#000" stroke-width="0.25">Ar plasma</text>
<text transform="translate(170.63,101.80) scale(1.0305,1)" font-size="36.8" fill="#000" stroke="#000" stroke-width="0.25">initial level</text>
<text transform="translate(424.05,46.30) scale(0.9803,1)" font-size="33.2" fill="#000" stroke="#000" stroke-width="0.25">(b)</text>
<text transform="translate(477.48,47.60) scale(0.9732,1)" font-size="39.3" fill="#000" stroke="#000" stroke-width="0.25">O</text>
<text transform="translate(506.21,65.60) scale(1.0369,1)" font-size="24.8" fill="#000" stroke="#000" stroke-width="0.25">2</text>
<text transform="translate(530.87,47.60) scale(0.9976,1)" font-size="37.4" fill="#000" stroke="#000" stroke-width="0.25">plasma</text>
<text transform="translate(720.22,46.30) scale(0.9944,1)" font-size="33.2" fill="#000" stroke="#000" stroke-width="0.25">(c)</text>
<text transform="translate(771.57,47.60) scale(0.9584,1)" font-size="39.5" fill="#000" stroke="#000" stroke-width="0.25">H</text>
<text transform="translate(798.08,65.60) scale(1.0549,1)" font-size="25" fill="#000" stroke="#000" stroke-width="0.25">2</text>
<text transform="translate(822.47,47.60) scale(0.9976,1)" font-size="37.4" fill="#000" stroke="#000" stroke-width="0.25">plasma</text>
<text transform="translate(278.58,151.10) scale(0.9834,1)" font-size="38.8" fill="#000" stroke="#000" stroke-width="0.25">-50V</text>
<text transform="translate(570.35,101.00) scale(0.9459,1)" font-size="38.8" fill="#000" stroke="#000" stroke-width="0.25">-50V</text>
<text transform="translate(957.39,55.90) scale(0.9796,1)" font-size="38.8" fill="#000" stroke="#000" stroke-width="0.25">-50V</text>
<text transform="translate(303.59,481.00) scale(0.9816,1)" font-size="38.8" fill="#000" stroke="#000" stroke-width="0.25">-300V</text>
<text transform="translate(603.49,531.00) scale(0.9807,1)" font-size="38.8" fill="#000" stroke="#000" stroke-width="0.25">-300V</text>
<text transform="translate(934.29,389.50) scale(0.9816,1)" font-size="38.8" fill="#000" stroke="#000" stroke-width="0.25">-300V</text>
<text transform="translate(216.96,205.70) scale(1.0338,1)" font-size="32.4" fill="#000" stroke="#000" stroke-width="0.25">defect</text>
<text transform="translate(216.44,244.10) scale(1.0258,1)" font-size="32.4" fill="#000" stroke="#000" stroke-width="0.25">recovery</text>
<text transform="translate(508.56,147.40) scale(1.0367,1)" font-size="32.2" fill="#000" stroke="#000" stroke-width="0.25">defect</text>
<text transform="translate(507.74,186.00) scale(1.0314,1)" font-size="32.2" fill="#000" stroke="#000" stroke-width="0.25">recovery</text>
<text transform="translate(131.07,547.30) scale(1.0362,1)" font-size="32" fill="#000" stroke="#000" stroke-width="0.25">defect</text>
<text transform="translate(131.07,574.90) scale(1.0390,1)" font-size="32" fill="#000" stroke="#000" stroke-width="0.25">generation</text>
<text transform="translate(163.20,696.15) rotate(-90) scale(1.0151,1)" font-size="37.2" fill="#000" stroke="#000" stroke-width="0.25">initial</text>
<text transform="translate(205.70,720.14) rotate(-90) scale(0.9674,1)" font-size="34" fill="#B51D2A" stroke="#B51D2A" stroke-width="0.25" font-weight="bold">plasma</text>
<text transform="translate(246.60,708.86) rotate(-90) scale(0.9546,1)" font-size="38.5" fill="#000" stroke="#000" stroke-width="0.25">100°C</text>
<g transform="translate(246.60,708.86) rotate(-90) scale(0.9546,1)" fill="#fff"><rect x="0.88" y="-4.18" width="8.45" height="5.48"/><rect x="13.43" y="-4.18" width="8.41" height="5.48"/></g>
<text transform="translate(290.50,710.26) rotate(-90) scale(0.9679,1)" font-size="38.5" fill="#000" stroke="#000" stroke-width="0.25">200°C</text>
<text transform="translate(335.00,709.89) rotate(-90) scale(0.9643,1)" font-size="38.5" fill="#000" stroke="#000" stroke-width="0.25">300°C</text>
<text transform="translate(373.60,709.14) rotate(-90) scale(0.9573,1)" font-size="38.5" fill="#000" stroke="#000" stroke-width="0.25">400°C</text>
<text transform="translate(460.80,696.15) rotate(-90) scale(1.0151,1)" font-size="37.2" fill="#000" stroke="#000" stroke-width="0.25">initial</text>
<text transform="translate(503.00,719.54) rotate(-90) scale(0.9691,1)" font-size="34" fill="#B51D2A" stroke="#B51D2A" stroke-width="0.25" font-weight="bold">plasma</text>
<text transform="translate(544.70,708.86) rotate(-90) scale(0.9546,1)" font-size="38.5" fill="#000" stroke="#000" stroke-width="0.25">100°C</text>
<g transform="translate(544.70,708.86) rotate(-90) scale(0.9546,1)" fill="#fff"><rect x="0.88" y="-4.18" width="8.45" height="5.48"/><rect x="13.43" y="-4.18" width="8.41" height="5.48"/></g>
<text transform="translate(588.60,710.26) rotate(-90) scale(0.9679,1)" font-size="38.5" fill="#000" stroke="#000" stroke-width="0.25">200°C</text>
<text transform="translate(634.10,709.89) rotate(-90) scale(0.9643,1)" font-size="38.5" fill="#000" stroke="#000" stroke-width="0.25">300°C</text>
<text transform="translate(672.70,709.14) rotate(-90) scale(0.9573,1)" font-size="38.5" fill="#000" stroke="#000" stroke-width="0.25">400°C</text>
<text transform="translate(765.90,696.15) rotate(-90) scale(1.0151,1)" font-size="37.2" fill="#000" stroke="#000" stroke-width="0.25">initial</text>
<text transform="translate(814.20,721.14) rotate(-90) scale(0.9674,1)" font-size="34" fill="#B51D2A" stroke="#B51D2A" stroke-width="0.25" font-weight="bold">plasma</text>
<text transform="translate(861.40,708.86) rotate(-90) scale(0.9546,1)" font-size="38.5" fill="#000" stroke="#000" stroke-width="0.25">100°C</text>
<g transform="translate(861.40,708.86) rotate(-90) scale(0.9546,1)" fill="#fff"><rect x="0.88" y="-4.18" width="8.45" height="5.48"/><rect x="13.43" y="-4.18" width="8.41" height="5.48"/></g>
<text transform="translate(911.40,710.26) rotate(-90) scale(0.9679,1)" font-size="38.5" fill="#000" stroke="#000" stroke-width="0.25">200°C</text>
<text transform="translate(962.40,709.89) rotate(-90) scale(0.9643,1)" font-size="38.5" fill="#000" stroke="#000" stroke-width="0.25">300°C</text>
<text transform="translate(1006.30,709.14) rotate(-90) scale(0.9573,1)" font-size="38.5" fill="#000" stroke="#000" stroke-width="0.25">400°C</text>
<text transform="translate(204.90,777.36) rotate(-90) scale(0.9880,1)" font-size="35" fill="#B51D2A" stroke="#B51D2A" stroke-width="0.25" font-weight="bold">Ar</text>
<text transform="translate(502.60,777.18) rotate(-90) scale(0.9968,1)" font-size="34.5" fill="#B51D2A" stroke="#B51D2A" stroke-width="0.25" font-weight="bold">O</text>
<text transform="translate(517.00,751.56) rotate(-90) scale(1.0589,1)" font-size="22" fill="#B51D2A" stroke="#B51D2A" stroke-width="0.7">2</text>
<text transform="translate(814.10,776.85) rotate(-90) scale(0.9181,1)" font-size="36" fill="#B51D2A" stroke="#B51D2A" stroke-width="0.25" font-weight="bold">H</text>
<text transform="translate(828.40,753.43) rotate(-90) scale(1.0290,1)" font-size="22" fill="#B51D2A" stroke="#B51D2A" stroke-width="0.7">2</text>
<text transform="translate(912.27,472.40) scale(1.0348,1)" font-size="39" fill="#B41E2B" stroke="#B41E2B" stroke-width="0.25">H</text>
<text transform="translate(939.68,490.70) scale(1.0549,1)" font-size="25" fill="#B41E2B" stroke="#B41E2B" stroke-width="0.25">2</text>
<text transform="translate(964.57,472.40) scale(1.0591,1)" font-size="36" fill="#B41E2B" stroke="#B41E2B" stroke-width="0.25">ann.</text>
<text transform="translate(912.04,527.00) scale(1.0575,1)" font-size="38.5" fill="#C65A26" stroke="#C65A26" stroke-width="0.25">N</text>
<text transform="translate(939.68,545.40) scale(1.0549,1)" font-size="25" fill="#C65A26" stroke="#C65A26" stroke-width="0.25">2</text>
<text transform="translate(964.57,527.00) scale(1.0591,1)" font-size="36" fill="#C65A26" stroke="#C65A26" stroke-width="0.25">ann.</text>
<text transform="translate(917.00,576.90) scale(1.0043,1)" font-size="38" fill="#2A2488" stroke="#2A2488" stroke-width="0.25">Ar</text>
<text transform="translate(965.19,576.90) scale(1.0499,1)" font-size="36" fill="#2A2488" stroke="#2A2488" stroke-width="0.25">ann.</text>
<g fill="none" stroke="#000">
<path d="M25 305C20.5 304.5 18.5 302 18.5 298L18.5 284.5" stroke-width="4.6"/>
<path d="M18.5 295.6L37 295.6C41.5 295.6 43 293 42.6 290C42.2 288 40.8 287 38.8 286.8" stroke-width="4"/>
<path d="M25 361.3C20.5 360.8 18.5 358.3 18.5 354.3L18.5 340.8" stroke-width="4.6"/>
<path d="M18.5 351.90000000000003L37 351.90000000000003C41.5 351.90000000000003 43 349.3 42.6 346.3C42.2 344.3 40.8 343.3 38.8 343.1" stroke-width="4"/>
<line x1="-2" y1="307.5" x2="43.2" y2="323.2" stroke-width="5"/>
</g>
<text transform="translate(72.30,282.70) rotate(-90) scale(1.0133,1)" font-size="38" fill="#000" stroke="#000" stroke-width="0.25">ini</text>
</svg>
</body></html>
